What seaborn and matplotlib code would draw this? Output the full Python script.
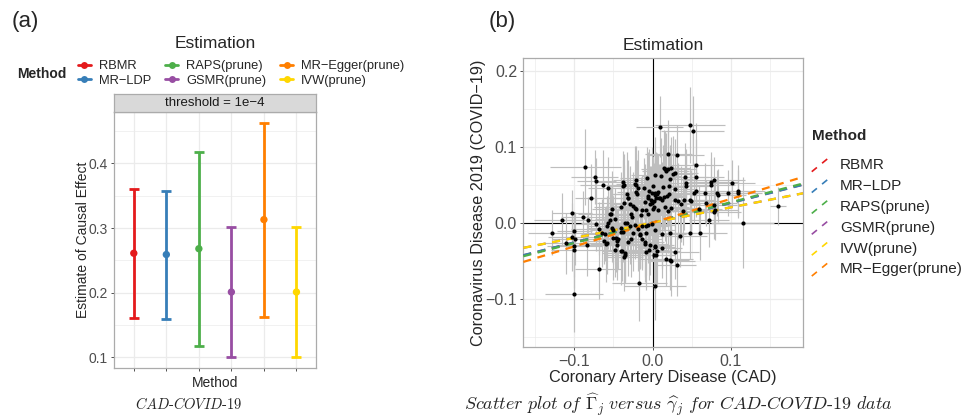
import numpy as np
import pandas as pd
import matplotlib
matplotlib.use("Agg")
import matplotlib.pyplot as plt
import seaborn as sns
from matplotlib.lines import Line2D
from matplotlib.legend_handler import HandlerBase
from matplotlib.ticker import FixedLocator, FixedFormatter

# ---------------- data ----------------
methods_a = ["RBMR", "MR\u2212LDP", "RAPS(prune)", "GSMR(prune)", "MR\u2212Egger(prune)", "IVW(prune)"]
colors_a = ["#E41A1C", "#377EB8", "#4DAF4A", "#984EA3", "#FF7F00", "#FFD700"]
est_a = [0.261, 0.259, 0.268, 0.201, 0.313, 0.201]
low_a = [0.161, 0.160, 0.118, 0.101, 0.163, 0.101]
up_a = [0.360, 0.357, 0.417, 0.301, 0.462, 0.301]

methods_b = ["RBMR", "MR\u2212LDP", "RAPS(prune)", "GSMR(prune)", "IVW(prune)", "MR\u2212Egger(prune)"]
colors_b = ["#E41A1C", "#377EB8", "#4DAF4A", "#984EA3", "#FFD700", "#FF7F00"]
slope_b = [0.261, 0.259, 0.268, 0.201, 0.201, 0.313]

gamma_hat = [
    -0.129, -0.116, -0.110, -0.103, -0.103, -0.100, -0.100, -0.100, -0.100, -0.089,
    -0.086, -0.083, -0.079, -0.084, -0.074, -0.072, -0.069, -0.069, -0.063, -0.062,
    -0.057, -0.061, -0.060, -0.055, -0.054, -0.052, -0.057, -0.051, -0.048, -0.045,
    -0.041, -0.039, -0.038, -0.036, -0.036, -0.035, -0.033, -0.033, -0.032, -0.029,
    -0.025, -0.022, -0.021, -0.020, -0.021, -0.017, -0.019, -0.026, -0.016, -0.013,
    -0.010, -0.008, -0.007, -0.006, -0.009, -0.004, -0.003, -0.002, -0.001, 0.000,
    0.001, 0.003, 0.003, 0.003, 0.004, 0.006, 0.007, 0.008, 0.009, 0.011,
    0.013, 0.014, 0.015, 0.017, 0.018, 0.020, 0.020, 0.023, 0.021, 0.022,
    0.024, 0.026, 0.028, 0.031, 0.031, 0.029, 0.029, 0.036, 0.041, 0.042,
    0.043, 0.048, 0.051, 0.053, 0.055, 0.055, 0.048, 0.049, 0.056, 0.059,
    0.060, 0.067, 0.068, 0.072, 0.074, 0.075, 0.078, 0.079, 0.078, 0.082,
    0.084, 0.096, 0.101, 0.109, 0.109, 0.115, 0.160, 0.016, -0.021, -0.022,
    0.022, -0.019, -0.011, -0.005, 0.003, 0.004, 0.002, 0.009, 0.021, 0.029,
    0.040, -0.040, -0.031, -0.028, -0.021, -0.014, -0.010, -0.006, -0.001, 0.002,
    0.012, 0.016, 0.024, 0.033, 0.039, 0.020, 0.007, -0.006, -0.015, -0.035,
    -0.040, -0.029, -0.023, -0.014, -0.006, -0.001, -0.038, -0.025, -0.016, -0.008,
    0.003, 0.012, 0.022, 0.035, 0.048, -0.044, -0.031, -0.028, -0.010, -0.003,
    0.003, 0.005, 0.012, -0.040, -0.035, -0.037, -0.008, 0.002, 0.017, -0.099,
    -0.072, -0.058, -0.064, -0.058, -0.053, 0.078, -0.047, 0.003, -0.038, -0.050,
    -0.048, -0.046, -0.052,
]
Gamma_hat = [
    -0.013, 0.004, -0.027, 0.013, -0.019, -0.011, -0.031, -0.036, -0.094, 0.007,
    0.073, 0.004, 0.032, -0.030, 0.060, 0.055, -0.061, -0.008, 0.050, -0.024,
    0.046, -0.015, -0.028, 0.011, 0.004, -0.007, 0.000, -0.020, -0.036, -0.024,
    -0.012, -0.037, 0.048, 0.050, 0.026, -0.042, -0.001, 0.038, 0.033, 0.024,
    0.022, 0.019, 0.040, 0.038, 0.050, -0.079, -0.008, 0.007, -0.015, -0.022,
    -0.028, 0.017, 0.059, 0.035, -0.004, -0.036, 0.025, 0.030, 0.039, 0.048,
    0.018, 0.039, -0.083, -0.031, -0.042, 0.037, 0.040, 0.032, 0.126, 0.061,
    0.047, 0.034, 0.072, 0.068, 0.035, 0.090, 0.071, 0.072, 0.048, -0.049,
    -0.051, 0.064, 0.065, 0.089, -0.056, 0.030, -0.039, 0.024, 0.060, 0.048,
    0.052, 0.128, 0.121, 0.039, 0.076, 0.042, 0.030, 0.029, 0.060, 0.018,
    -0.014, 0.039, 0.026, 0.003, 0.053, 0.050, 0.056, 0.017, 0.014, 0.039,
    0.036, 0.039, 0.052, 0.041, 0.039, 0.000, 0.022, 0.070, 0.056, 0.051,
    0.057, 0.045, 0.045, 0.042, 0.036, 0.033, 0.029, 0.032, 0.037, 0.044,
    0.030, 0.021, 0.032, 0.011, 0.018, 0.017, 0.027, 0.033, 0.026, 0.020,
    0.030, 0.021, 0.019, 0.028, 0.015, 0.015, 0.016, 0.012, 0.010, -0.001,
    -0.007, -0.005, -0.003, -0.005, -0.003, -0.002, -0.012, -0.014, -0.016, -0.014,
    -0.010, -0.015, -0.014, -0.018, -0.013, -0.021, -0.025, -0.022, -0.026, -0.029,
    -0.032, -0.037, -0.033, -0.037, -0.040, -0.045, -0.038, -0.043, -0.048, -0.021,
    -0.002, -0.005, -0.014, -0.027, 0.012, 0.023, -0.020, 0.062, 0.054, -0.010,
    0.005, -0.030, 0.018,
]
se_gamma = [
    0.030, 0.035, 0.028, 0.025, 0.030, 0.022, 0.035, 0.030, 0.037, 0.028,
    0.045, 0.030, 0.020, 0.035, 0.030, 0.025, 0.030, 0.035, 0.030, 0.025,
    0.025, 0.030, 0.020, 0.040, 0.025, 0.030, 0.035, 0.020, 0.025, 0.030,
    0.030, 0.025, 0.020, 0.030, 0.035, 0.025, 0.030, 0.020, 0.030, 0.025,
    0.030, 0.020, 0.025, 0.030, 0.020, 0.035, 0.025, 0.030, 0.020, 0.025,
    0.030, 0.025, 0.035, 0.020, 0.030, 0.025, 0.020, 0.030, 0.025, 0.035,
    0.025, 0.030, 0.040, 0.020, 0.025, 0.030, 0.020, 0.025, 0.030, 0.025,
    0.030, 0.025, 0.020, 0.030, 0.025, 0.030, 0.035, 0.025, 0.030, 0.025,
    0.030, 0.025, 0.030, 0.035, 0.025, 0.020, 0.030, 0.025, 0.030, 0.035,
    0.030, 0.045, 0.040, 0.030, 0.035, 0.025, 0.030, 0.040, 0.035, 0.030,
    0.035, 0.030, 0.040, 0.025, 0.035, 0.030, 0.040, 0.030, 0.035, 0.030,
    0.035, 0.030, 0.030, 0.035, 0.030, 0.040, 0.010, 0.025, 0.030, 0.025,
    0.030, 0.025, 0.030, 0.020, 0.035, 0.025, 0.030, 0.020, 0.030, 0.025,
    0.030, 0.035, 0.025, 0.030, 0.020, 0.035, 0.025, 0.030, 0.020, 0.030,
    0.025, 0.030, 0.035, 0.025, 0.030, 0.020, 0.025, 0.030, 0.035, 0.025,
    0.030, 0.020, 0.030, 0.025, 0.035, 0.020, 0.030, 0.025, 0.020, 0.030,
    0.025, 0.030, 0.025, 0.035, 0.030, 0.025, 0.030, 0.020, 0.025, 0.030,
    0.025, 0.030, 0.025, 0.020, 0.030, 0.025, 0.030, 0.025, 0.035, 0.030,
    0.030, 0.025, 0.035, 0.025, 0.030, 0.030, 0.025, 0.030, 0.035, 0.030,
    0.025, 0.030, 0.025,
]
se_Gamma = [
    0.030, 0.035, 0.040, 0.030, 0.045, 0.025, 0.040, 0.050, 0.050, 0.035,
    0.050, 0.030, 0.045, 0.040, 0.035, 0.030, 0.040, 0.035, 0.045, 0.030,
    0.040, 0.035, 0.050, 0.030, 0.040, 0.045, 0.035, 0.055, 0.035, 0.040,
    0.045, 0.040, 0.035, 0.040, 0.050, 0.035, 0.045, 0.055, 0.040, 0.050,
    0.045, 0.050, 0.040, 0.045, 0.040, 0.050, 0.055, 0.035, 0.045, 0.040,
    0.050, 0.040, 0.040, 0.055, 0.045, 0.040, 0.050, 0.045, 0.060, 0.040,
    0.050, 0.045, 0.045, 0.050, 0.040, 0.055, 0.050, 0.045, 0.040, 0.050,
    0.055, 0.045, 0.050, 0.050, 0.040, 0.045, 0.055, 0.040, 0.045, 0.040,
    0.045, 0.050, 0.045, 0.040, 0.040, 0.045, 0.035, 0.050, 0.045, 0.040,
    0.045, 0.050, 0.045, 0.040, 0.055, 0.035, 0.045, 0.040, 0.050, 0.030,
    0.035, 0.040, 0.030, 0.035, 0.040, 0.035, 0.030, 0.040, 0.035, 0.030,
    0.035, 0.030, 0.030, 0.035, 0.030, 0.060, 0.025, 0.050, 0.045, 0.050,
    0.045, 0.050, 0.040, 0.055, 0.045, 0.060, 0.050, 0.045, 0.040, 0.050,
    0.040, 0.045, 0.050, 0.040, 0.055, 0.045, 0.050, 0.060, 0.045, 0.050,
    0.050, 0.045, 0.040, 0.050, 0.045, 0.055, 0.050, 0.045, 0.050, 0.040,
    0.045, 0.050, 0.045, 0.055, 0.050, 0.045, 0.040, 0.050, 0.045, 0.055,
    0.050, 0.045, 0.050, 0.040, 0.035, 0.040, 0.045, 0.050, 0.045, 0.040,
    0.050, 0.045, 0.040, 0.045, 0.040, 0.045, 0.050, 0.045, 0.035, 0.035,
    0.035, 0.040, 0.045, 0.040, 0.035, 0.030, 0.045, 0.050, 0.040, 0.045,
    0.040, 0.045, 0.050,
]

# ---------------- style ----------------
sns.set_theme(style="white")
plt.rcParams["font.family"] = ["Liberation Sans", "DejaVu Sans"]
plt.rcParams["mathtext.fontset"] = "cm"

GRID = "#EBEBEB"
BORDER = "#ABABAB"
TICKC = "#4D4D4D"

fig = plt.figure(figsize=(9.71, 4.2), dpi=100)

# ================= panel (a) =================
axa = fig.add_axes([0.1177, 0.1231, 0.2077, 0.611])
pos = np.arange(len(methods_a))
dfa = pd.DataFrame({"pos": pos, "est": est_a, "Method": methods_a})
for i in range(len(methods_a)):
    axa.errorbar(pos[i], est_a[i],
                 yerr=[[est_a[i] - low_a[i]], [up_a[i] - est_a[i]]],
                 fmt="none", ecolor=colors_a[i], elinewidth=2.0,
                 capsize=3.3, capthick=2.0, zorder=3)
sns.scatterplot(data=dfa, x="pos", y="est", hue="Method", palette=colors_a,
                hue_order=methods_a, s=28, linewidth=0, legend=False,
                ax=axa, zorder=4)
axa.set_xlim(-0.6, 5.6)
axa.set_ylim(0.083, 0.480)
axa.yaxis.set_major_locator(FixedLocator([0.1, 0.2, 0.3, 0.4]))
axa.yaxis.set_major_formatter(FixedFormatter(["0.1", "0.2", "0.3", "0.4"]))
axa.yaxis.set_minor_locator(FixedLocator([0.15, 0.25, 0.35, 0.45]))
axa.xaxis.set_major_locator(FixedLocator(list(pos)))
axa.set_xticklabels([])
axa.grid(True, which="major", color=GRID, lw=0.9, zorder=0)
axa.grid(True, which="minor", axis="y", color=GRID, lw=0.5, zorder=0)
axa.set_axisbelow(True)
for s in axa.spines.values():
    s.set_color(BORDER)
    s.set_linewidth(0.9)
axa.tick_params(axis="both", which="major", length=2.5, width=0.6,
                color="#333333", labelsize=10, labelcolor=TICKC,
                bottom=True, left=True, pad=2)
axa.tick_params(axis="both", which="minor", length=0)
axa.set_xlabel("Method", fontsize=10, labelpad=1)
axa.set_ylabel("Estimate of Causal Effect", fontsize=10)
axa.yaxis.set_label_coords(-0.122, 0.5)

# strip
axs = fig.add_axes([0.1177, 0.734, 0.2077, 0.042])
axs.set_facecolor("#D9D9D9")
axs.set_xticks([])
axs.set_yticks([])
for s in axs.spines.values():
    s.set_color(BORDER)
    s.set_linewidth(0.9)
axs.text(0.5, 0.47, "threshold = 1e\u22124", ha="center", va="center",
         fontsize=9.5, color="#1A1A1A", transform=axs.transAxes)

fig.text(0.2214, 0.896, "Estimation", ha="center", va="center", fontsize=12.5)
fig.text(0.0175, 0.825, "Method", ha="left", va="center", fontsize=10,
         fontweight="bold")
handles_a = [Line2D([0], [0], color=c, lw=2.0, marker="o", markersize=5,
                    markeredgewidth=0) for c in colors_a]
fig.legend(handles_a, methods_a, loc="center left",
           bbox_to_anchor=(0.080, 0.825), ncol=3, frameon=False,
           fontsize=9.3, handlelength=1.05, handletextpad=0.6,
           columnspacing=1.05, labelspacing=0.2, borderpad=0,
           borderaxespad=0)

fig.text(0.026, 0.950, "(a)", ha="center", va="center", fontsize=16)
fig.text(0.1947, 0.038, r"$\mathit{CAD}\text{-}\mathit{COVID}\text{-}\mathrm{19}$",
         ha="center", va="center", fontsize=10.5)

# ================= panel (b) =================
axb = fig.add_axes([0.539, 0.173, 0.288, 0.688])
axb.axhline(0, color="black", lw=0.8, zorder=2)
axb.axvline(0, color="black", lw=0.8, zorder=2)
axb.errorbar(gamma_hat, Gamma_hat, xerr=se_gamma, yerr=se_Gamma, fmt="none",
             ecolor="#BEBEBE", elinewidth=0.85, zorder=3)
dfb = pd.DataFrame({"gamma": gamma_hat, "Gamma": Gamma_hat})
sns.scatterplot(data=dfb, x="gamma", y="Gamma", color="black", s=9,
                linewidth=0, ax=axb, zorder=5)
for sl, c in zip(slope_b, colors_b):
    axb.axline((0, 0), slope=sl, color=c, lw=1.6, ls=(0, (3.6, 3.0)), zorder=4)
axb.set_xlim(-0.165, 0.192)
axb.set_ylim(-0.164, 0.216)
axb.xaxis.set_major_locator(FixedLocator([-0.1, 0.0, 0.1]))
axb.xaxis.set_major_formatter(FixedFormatter(["\u22120.1", "0.0", "0.1"]))
axb.xaxis.set_minor_locator(FixedLocator([-0.15, -0.05, 0.05, 0.15]))
axb.yaxis.set_major_locator(FixedLocator([-0.1, 0.0, 0.1, 0.2]))
axb.yaxis.set_major_formatter(FixedFormatter(["\u22120.1", "0.0", "0.1", "0.2"]))
axb.yaxis.set_minor_locator(FixedLocator([-0.15, -0.05, 0.05, 0.15]))
axb.grid(True, which="major", color=GRID, lw=0.9, zorder=0)
axb.grid(True, which="minor", color=GRID, lw=0.5, zorder=0)
axb.set_axisbelow(True)
for s in axb.spines.values():
    s.set_color(BORDER)
    s.set_linewidth(0.9)
axb.tick_params(axis="both", which="major", length=2.5, width=0.6,
                color="#333333", labelsize=11.5, labelcolor=TICKC,
                bottom=True, left=True, pad=2)
axb.tick_params(axis="both", which="minor", length=0)
axb.set_xlabel("Coronary Artery Disease (CAD)", fontsize=11.7, labelpad=1)
axb.set_ylabel("Coronavirus Disease 2019 (COVID\u221219)", fontsize=11.7)
axb.yaxis.set_label_coords(-0.132, 0.5)
axb.set_title("Estimation", fontsize=12.5, pad=6)


class DiagHandler(HandlerBase):
    def create_artists(self, legend, orig_handle, xdescent, ydescent,
                       width, height, fontsize, trans):
        ln = Line2D([-xdescent, width - xdescent],
                    [-ydescent, height - ydescent],
                    color=orig_handle.get_color(), lw=1.2,
                    linestyle=(0, (4.0, 4.0)))
        ln.set_transform(trans)
        return [ln]


handles_b = [Line2D([0], [0], color=c) for c in colors_b]
leg = fig.legend(handles_b, methods_b, loc="upper left",
                 bbox_to_anchor=(0.836, 0.6285), frameon=False, fontsize=11,
                 handler_map={Line2D: DiagHandler()}, handlelength=1.25,
                 handleheight=1.2, handletextpad=0.6, labelspacing=0.32,
                 borderpad=0, borderaxespad=0)
fig.text(0.836, 0.675, "Method", ha="left", va="center", fontsize=11,
         fontweight="bold")

fig.text(0.517, 0.950, "(b)", ha="center", va="center", fontsize=16)
fig.text(0.698, 0.038,
         r"$\mathit{Scatter\ plot\ of\ }\widehat{\Gamma}_j\mathit{\ versus\ }"
         r"\widehat{\gamma}_j\mathit{\ for\ CAD}\text{-}\mathit{COVID}\text{-}"
         r"\mathrm{19}\mathit{\ data}$",
         ha="center", va="center", fontsize=13)

fig.savefig("out.png", dpi=100)
